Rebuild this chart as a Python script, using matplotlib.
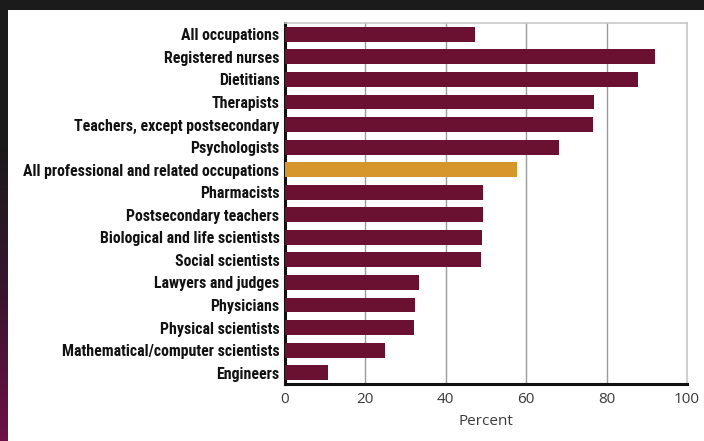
import matplotlib
matplotlib.use("Agg")
import matplotlib.pyplot as plt
import numpy as np
from matplotlib.patches import Rectangle
from matplotlib import font_manager
from matplotlib.colors import LinearSegmentedColormap

categories = [
    "All occupations",
    "Registered nurses",
    "Dietitians",
    "Therapists",
    "Teachers, except postsecondary",
    "Psychologists",
    "All professional and related occupations",
    "Pharmacists",
    "Postsecondary teachers",
    "Biological and life scientists",
    "Social scientists",
    "Lawyers and judges",
    "Physicians",
    "Physical scientists",
    "Mathematical/computer scientists",
    "Engineers",
]
values = [47.3, 92.0, 87.9, 76.9, 76.7, 68.2, 57.6, 49.3, 49.2, 48.9, 48.7, 33.3, 32.3, 32.1, 24.9, 10.6]
highlight = "All professional and related occupations"
xticks = [0, 20, 40, 60, 80, 100]

maroon = "#6a1030"
gold = "#d6962c"

fonts = font_manager.fontManager.ttflist
names = {f.name for f in fonts}
label_family = None
for cand in ["Liberation Sans Narrow", "Roboto Condensed", "Open Sans Condensed", "Noto Sans Condensed"]:
    if cand in names:
        label_family = cand
        break
label_stretch = "normal"
if label_family is None:
    label_family = "DejaVu Sans"
    label_stretch = "condensed"
tick_family = "Open Sans" if "Open Sans" in names else "DejaVu Sans"

W, H = 704, 441
fig = plt.figure(figsize=(W / 100, H / 100), dpi=100, facecolor="#1b1b1b")

bg = fig.add_axes([0, 0, 1, 1], zorder=-10)
bg.set_axis_off()
grad = np.linspace(0, 1, 256).reshape(-1, 1)
cmap = LinearSegmentedColormap.from_list("g", ["#1b1b1b", "#1b1b1b", "#3a1430", "#6e1048"])
bg.imshow(grad, extent=(0, 9, H, 0), aspect="auto", cmap=cmap)
bg.add_patch(Rectangle((8, 10), W - 8, H - 10, facecolor="white", edgecolor="none"))
bg.set_xlim(0, W)
bg.set_ylim(H, 0)

ax = fig.add_axes([285 / W, 1 - 384 / H, (687 - 285) / W, (384 - 23) / H])
y = np.arange(len(categories))
colors = [gold if c == highlight else maroon for c in categories]
ax.barh(y, values, height=0.66, color=colors, zorder=3)
ax.set_ylim(len(categories) - 0.5, -0.5)
ax.set_xlim(0, 100)
ax.set_xticks(xticks)
ax.set_xticklabels([str(t) for t in xticks], fontsize=11, color="#3a3a3a", family=tick_family)
ax.set_yticks(y)
ax.set_yticklabels(categories, fontsize=11.4, fontweight="bold",
                   family=label_family, fontstretch=label_stretch, color="#111111")
ax.tick_params(axis="both", length=0, pad=4)
ax.tick_params(axis="x", pad=6)
ax.grid(axis="x", color="#9a9a9a", linewidth=1.0, zorder=0)
ax.set_axisbelow(True)
ax.spines["left"].set_color("#111111")
ax.spines["left"].set_linewidth(2.2)
ax.spines["bottom"].set_color("#111111")
ax.spines["bottom"].set_linewidth(2.2)
for s in ("top", "right"):
    ax.spines[s].set_color("#c8c8c8")
    ax.spines[s].set_linewidth(1.2)
ax.set_xlabel("Percent", fontsize=11, color="#3a3a3a", labelpad=5, family=tick_family)

fig.savefig("out.png", dpi=100, facecolor=fig.get_facecolor())
